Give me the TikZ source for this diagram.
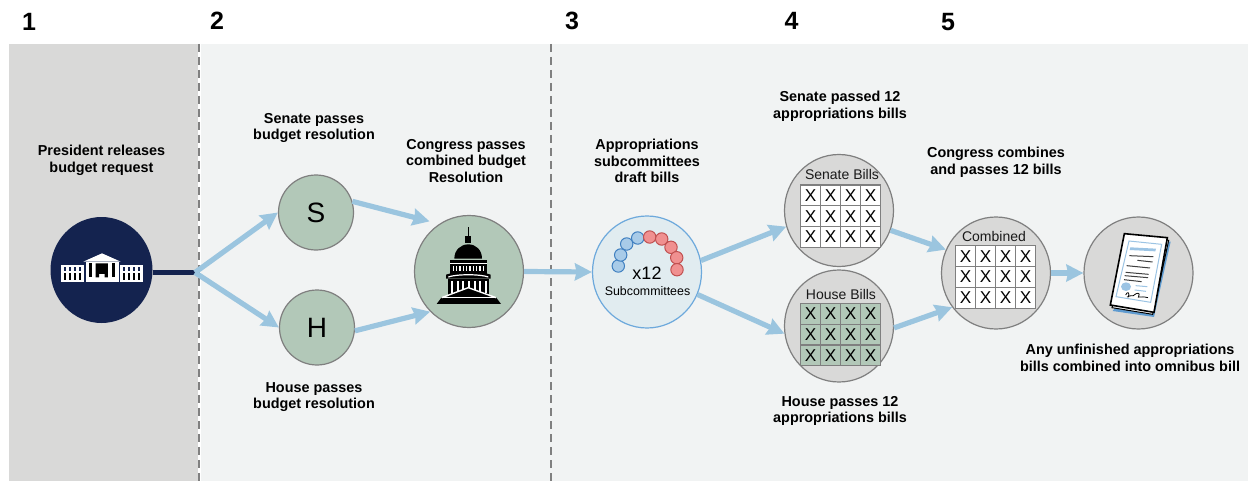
\documentclass[tikz,border=0pt]{standalone}
\usepackage{fontspec}
\setmainfont{Liberation Sans}
\usetikzlibrary{arrows.meta,shapes.geometric}
\definecolor{navy}{HTML}{14234F}
\definecolor{sage}{HTML}{B2C8B8}
\definecolor{panelgray}{HTML}{D9D9D8}
\definecolor{panellight}{HTML}{F1F3F3}
\definecolor{flow}{HTML}{9BC5DF}
\definecolor{rim}{HTML}{7F7F7F}
\definecolor{subfill}{HTML}{E1ECF0}
\definecolor{subrim}{HTML}{6DA9DC}
\definecolor{beadblue}{HTML}{A8CBE8}
\definecolor{beadblueline}{HTML}{3F7FC0}
\definecolor{beadred}{HTML}{F09090}
\definecolor{beadredline}{HTML}{C05050}
\definecolor{docblue}{HTML}{9CC4E4}
\definecolor{docblue2}{HTML}{5F9BD0}
\tikzset{
  x=0.5pt,y=-0.5pt,
  flowarrow/.style={draw=flow,line width=2.6pt,-{Stealth[length=8.5pt,width=8.5pt,inset=0.8pt]}},
  roundel/.style={ellipse,draw=rim,line width=0.6pt,inner sep=0pt,minimum width=54.5pt,minimum height=56pt},
  graydisc/.style={roundel,fill=panelgray},
  smalldisc/.style={ellipse,draw=rim,line width=0.6pt,fill=sage,inner sep=0pt,minimum width=37.5pt,minimum height=37.5pt,font=\fontsize{14}{14}\selectfont},
  caption/.style={align=center,font=\fontsize{7.2}{8.4}\selectfont\bfseries,inner sep=0pt},
  stepnum/.style={font=\fontsize{12.5}{14}\selectfont\bfseries,inner sep=0pt},
  cell/.style={draw=rim,line width=0.6pt,minimum width=10pt,minimum height=10.4pt,inner sep=0pt,font=\fontsize{8.6}{8.6}\selectfont},
  disclabel/.style={inner sep=0pt,font=\fontsize{7}{8}\selectfont,text=black!90},
  divider/.style={draw=gray,line width=0.6pt,dash pattern=on 4pt off 2.5pt},
  bead/.style={circle,inner sep=0pt,minimum size=6.2pt,line width=0.5pt},
  bluebead/.style={bead,draw=beadblueline,fill=beadblue},
  redbead/.style={bead,draw=beadredline,fill=beadred},
}
\newcommand{\billgrid}[4]{%
  \foreach \gi in {0,1,2,3}{\foreach \gj in {0,1,2}{
    \node[cell,fill=#4] (#1-\gi-\gj) at ({#2+10+20*\gi},{#3+10.4+20.8*\gj}) {X};
  }}%
}
\begin{document}
\begin{tikzpicture}
\useasboundingbox (0,0) rectangle (1248,481);
\fill[white] (0,0) rectangle (1248,481);
\fill[panelgray] (9,44) rectangle (198,481);
\fill[panellight] (201,44) rectangle (1248,481);
\coordinate (d1a) at (199,44); \coordinate (d1b) at (199,481);
\coordinate (d2a) at (551,44); \coordinate (d2b) at (551,481);
\draw[divider] (d1a) -- (d1b);
\draw[divider] (d2a) -- (d2b);

% step numbers
\node[stepnum] (n1) at (29,22) {1};
\node[stepnum] (n2) at (217,21) {2};
\node[stepnum] (n3) at (572,20.5) {3};
\node[stepnum] (n4) at (791.5,21) {4};
\node[stepnum] (n5) at (948,22) {5};

% captions
\node[caption] (c1) at (101.5,160) {President releases\\budget request};
\node[caption] (c2) at (314,128) {Senate passes\\budget resolution};
\node[caption] (c3) at (466,161) {Congress passes\\combined budget\\Resolution};
\node[caption] (c4) at (314,397) {House passes\\budget resolution};
\node[caption] (c5) at (647,161) {Appropriations\\subcommittees\\draft bills};
\node[caption] (c6) at (840,106) {Senate passed 12\\appropriations bills};
\node[caption] (c7) at (840,411) {House passes 12\\appropriations bills};
\node[caption] (c8) at (996,162.5) {Congress combines\\and passes 12 bills};
\node[caption] (c9) at (1130,358) {Any unfinished appropriations\\bills combined into omnibus bill};

% main nodes
\node[ellipse,fill=navy,inner sep=0pt,minimum width=51pt,minimum height=53pt] (pres) at (101.5,270) {};
\coordinate (hub) at (195,272.5);
\node[smalldisc] (S) at (316,212.5) {S};
\node[smalldisc] (H) at (317,327.5) {H};
\node[roundel,fill=sage] (cap) at (469,271.5) {};
\node[roundel,fill=subfill,draw=subrim] (sub) at (647,272) {};
\node[graydisc] (sen) at (839,210.5) {};
\node[graydisc] (hou) at (839,326) {};
\node[graydisc] (com) at (996,273) {};
\node[graydisc] (doc) at (1138.5,273) {};

% connectors
\draw[navy,line width=2.6pt] (pres.east |- hub) -- (hub);
\draw[flowarrow] (hub) -- (S.west);
\draw[flowarrow] (hub) -- (H.west);
\draw[flowarrow,shorten >=5pt] (S.17) -- (cap.122);
\draw[flowarrow] (H.-5) -- (cap.226);
\draw[flowarrow] (cap.east) -- (sub.west);
\draw[flowarrow] (sub.12) -- (sen.197);
\draw[flowarrow] (sub.-24) -- (hou.188);
\draw[flowarrow] (sen.-21) -- (com.155);
\draw[flowarrow] (hou.-2) -- (com.218);
\draw[flowarrow] (com.east) -- (doc.west);

% subcommittee content
\node[bluebead] (b1) at (618.3,266) {};
\node[bluebead] (b2) at (620.7,255) {};
\node[bluebead] (b3) at (626.7,244) {};
\node[bluebead] (b4) at (637.7,238) {};
\node[redbead] (r1) at (649.7,237) {};
\node[redbead] (r2) at (661.7,239) {};
\node[redbead] (r3) at (671,247.3) {};
\node[redbead] (r4) at (676.7,257.7) {};
\node[redbead] (r5) at (677,269.7) {};
\node[inner sep=0pt,font=\fontsize{9}{10}\selectfont] (x12) at (647,273) {x12};
\node[inner sep=0pt,font=\fontsize{6.2}{7}\selectfont] (subt) at (647.5,291) {Subcommittees};

% bill grids
\node[disclabel] (senl) at (842,174.5) {Senate Bills};
\node[disclabel] (houl) at (841,294) {House Bills};
\node[disclabel] (coml) at (994,236) {Combined};
\billgrid{sg}{800.7}{185}{white}
\billgrid{hg}{800.7}{303.3}{sage}
\billgrid{cg}{955.7}{245.7}{white}

% White House icon (zoom coordinates)
\begin{scope}[shift={(30,200)},scale=1/3]
  \fill[white] (94,195) rectangle (162,247);
  \fill[white] (270,195) rectangle (338,247);
  \fill[white] (167,185) rectangle (267,247);
  \fill[white] (216,160) -- (272,185) -- (160,185) -- cycle;
  \foreach \wx in {105,120,135,150,281,296,311,326}{
    \fill[navy] (\wx-3,201) rectangle (\wx+3,213);
    \fill[black] (\wx-3,220) rectangle (\wx+3,240);
  }
  \fill[black] (178,188) rectangle (187,232);
  \fill[black] (245,188) rectangle (254,232);
  \fill[black] (197,190) -- (234,190) -- (234,232) -- (224,232) -- (224,222) -- (207,222) -- (207,232) -- (197,232) -- cycle;
\end{scope}

% Capitol icon (zoom coordinates)
\begin{scope}[shift={(400,200)},scale=1/3]
  \fill[black] (203,82) rectangle (207,108);
  \fill[black] (196,108) rectangle (214,130);
  \fill[black] (163,176) .. controls (163,150) and (182,133) .. (205,133) .. controls (228,133) and (246,150) .. (246,176) -- cycle;
  \fill[black] (150,180) rectangle (260,222);
  \fill[black] (138,224) .. controls (160,214) and (250,214) .. (272,224) -- (272,236) -- (138,236) -- cycle;
  \fill[black] (143,238) rectangle (268,290);
  \fill[black] (110,312) -- (125,292) -- (288,292) -- (303,312) -- cycle;
  \foreach \cx in {158,168,178,188,198,208,218,228,238,248}{
    \fill[white] (\cx,197) rectangle (\cx+4,213);
  }
  \foreach \cx in {153,170,187,204,221,238,255}{
    \fill[white] (\cx,243) rectangle (\cx+6,278);
  }
  \draw[white,line width=0.6pt] (150,190) -- (260,190);
  \draw[white,line width=0.6pt] (145,231) .. controls (170,222) and (240,222) .. (265,231);
  \fill[black] (135,290) -- (205,263) -- (278,290) -- cycle;
  \draw[white,line width=0.7pt] (125,293) -- (205,263) -- (288,293);
  \draw[white,line width=0.5pt] (125,292) -- (288,292);
\end{scope}

% Document icon (zoom coordinates)
\begin{scope}[shift={(930,205)},scale=1/3]
  \fill[docblue2] (548,318) -- (672,336) -- (722,110) -- (700,110) -- cycle;
  \draw[black,line width=0.5pt,fill=white] (546,308) -- (668,328) -- (716,106) -- (600,92) -- cycle;
  \draw[black,line width=0.8pt,fill=white] (583,86) -- (712,98) -- (672,322) -- (541,300) -- cycle;
  \draw[docblue,line width=0.5pt] (597,108) -- (695,118) -- (662,292) -- (558,275) -- cycle;
  \fill[docblue] (601,127) -- (678,131) -- (676,139) -- (599,135) -- cycle;
  \draw[black!75,line width=0.5pt] (598,152) -- (670,155) (622,166) -- (668,171) (590,182) -- (660,189) (587,202) -- (656,208) (584,212) -- (654,218) (582,224) -- (635,230);
  \fill[docblue] (588,245) ellipse (15 and 13);
  \draw[docblue,line width=0.5pt] (617,242) -- (652,245) (614,255) -- (648,259);
  \draw[black,line width=0.4pt] (587,270) .. controls (592,258) and (600,262) .. (595,276) .. controls (592,280) and (588,272) .. (610,272) .. controls (620,262) and (632,262) .. (626,274) .. controls (622,280) and (630,272) .. (654,278);
\end{scope}
\end{tikzpicture}
\end{document}
